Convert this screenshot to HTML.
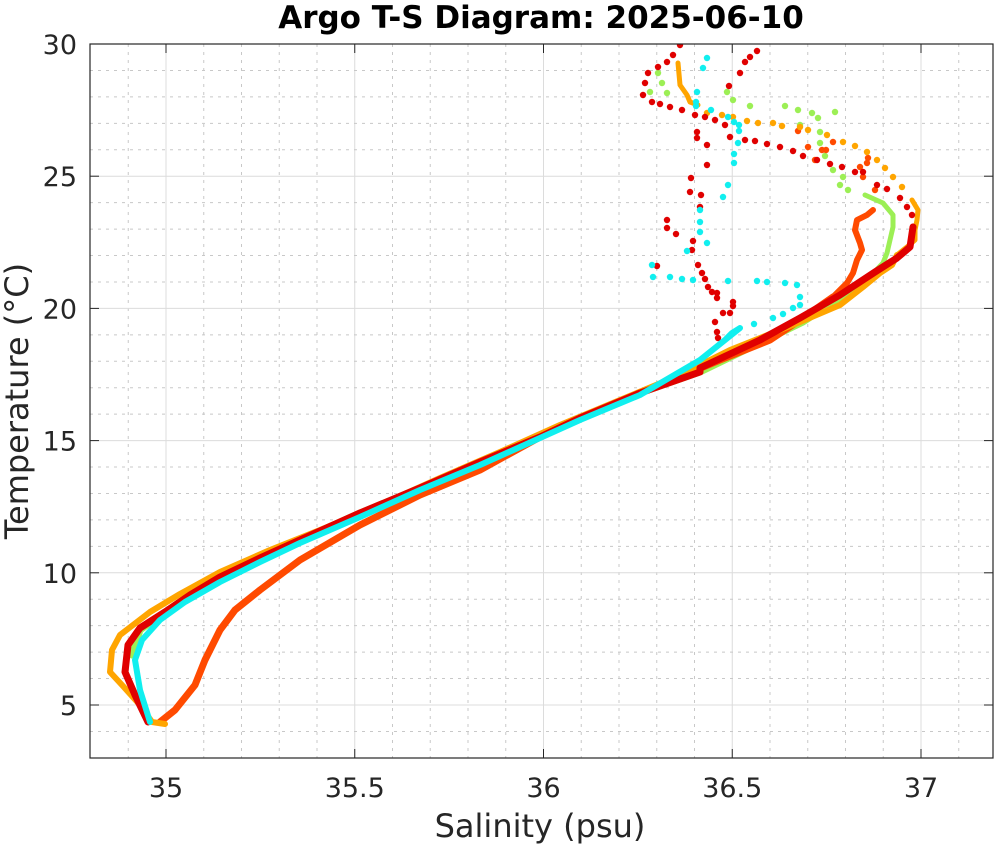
<!DOCTYPE html><html><head><meta charset="utf-8"><style>body{margin:0;background:#fff}svg{display:block}text{font-family:"DejaVu Sans","Liberation Sans",sans-serif}</style></head><body>
<svg id="s" width="997" height="846" xmlns="http://www.w3.org/2000/svg">
<rect width="997" height="846" fill="#fff"/>
<g id="grid"></g>
<g id="data" clip-path="url(#c)"></g>
<clipPath id="c"><rect x="90" y="44" width="903" height="714"/></clipPath>
<rect x="90" y="44" width="903" height="714" fill="none" stroke="#262626" stroke-width="1.2"/>
<g id="ticks"></g>
<text x="541" y="28" font-size="31" font-weight="bold" text-anchor="middle" fill="#000">Argo T-S Diagram: 2025-06-10</text>
<text x="540" y="837" font-size="32" text-anchor="middle" fill="#262626">Salinity (psu)</text>
<text transform="translate(28,401) rotate(-90)" font-size="32" text-anchor="middle" fill="#262626">Temperature (°C)</text>
</svg>
<script>
const NS="http://www.w3.org/2000/svg";
function el(p,t,a){const e=document.createElementNS(NS,t);for(const k in a)e.setAttribute(k,a[k]);p.appendChild(e);return e;}
const px=s=>166+(s-35)*377.5, py=T=>44+(30-T)*26.44;
const g=document.getElementById('grid'),tk=document.getElementById('ticks'),d=document.getElementById('data');
for(let i=0;i<=24;i++){const s=34.8+i*0.1,x=px(s);if(x<91||x>992)continue;const maj=Math.abs((s*2)-Math.round(s*2))<1e-6;
el(g,'line',{x1:x,x2:x,y1:44,y2:758,stroke:maj?'#dcdcdc':'#c8c8c8','stroke-width':1,'stroke-dasharray':maj?'':'3 5'});}
for(let T=3;T<=30;T++){const y=py(T);if(y<45||y>757)continue;const maj=T%5==0;
el(g,'line',{x1:90,x2:993,y1:y,y2:y,stroke:maj?'#dcdcdc':'#c8c8c8','stroke-width':1,'stroke-dasharray':maj?'':'3 5'});}
[35,35.5,36,36.5,37].forEach(s=>{const x=px(s);el(tk,'line',{x1:x,x2:x,y1:758,y2:749,stroke:'#262626'});el(tk,'line',{x1:x,x2:x,y1:44,y2:53,stroke:'#262626'});
const t=el(tk,'text',{x:x,y:797,'font-size':27,'text-anchor':'middle',fill:'#262626'});t.textContent=String(s);});
[5,10,15,20,25,30].forEach(T=>{const y=py(T);el(tk,'line',{x1:90,x2:99,y1:y,y2:y,stroke:'#262626'});el(tk,'line',{x1:993,x2:984,y1:y,y2:y,stroke:'#262626'});
const t=el(tk,'text',{x:77,y:y+10,'font-size':27,'text-anchor':'end',fill:'#262626'});t.textContent=String(T);});
function line(pts,c,w){el(d,'polyline',{points:pts,fill:'none',stroke:c,'stroke-width':w,'stroke-linejoin':'round','stroke-linecap':'round'});}
function dots(pts,c){pts.split(' ').forEach(p=>{const [x,y]=p.split(',');el(d,'circle',{cx:x,cy:y,r:3.2,fill:c});});}
const OR='#ff4a00',RD='#e00000',CY='#11efef',GR='#9cef55',OG='#ffa500';
const trunk="700,372 640,393 580,418 540,437 480,462 420,488 360,513 300,540 260,558 220,577 190,595 165,612";
line("867,280 855,288 803,322 "+trunk+" 140,630 132,655",GR,7);
dots("658,73 662,83 650,92 667,93 727,92 733,100 750,106 785,106 798,110 812,113 818,118 835,112 800,125 820,132 820,143 825,156 833,170 843,177 840,185 848,190",GR);
line("865,195 883,203 893,215 893,227 890,240 887,253 883,263 867,280",GR,5);
line("833,297 800,320 770,340 720,360 660,385 600,410 540,437 480,470 420,495 360,525 300,560 260,590 235,610 220,630 205,660 195,685 175,710 160,722",OR,7);
line("800,320 833,297 847,283 853,273 857,260 862,250 860,243 855,230 857,220 867,215 873,210",OR,6);
dots("875,190 863,177 860,167 867,163 868,158 815,160 808,147 798,131 833,142 822,150 826,150",OR);
line("897,255 892,265 880,273 863,287 840,305 800,322 730,350 680,375 620,400 560,425 500,452 440,478 380,505 320,530 270,550 220,572 180,594 150,612 120,635 112,650 110,672 122,685 140,705 152,722 165,724",OG,6);
line("678,63 680,85 687,95 690,102 698,105",OG,5);
dots("707,113 722,115 733,117 747,121 758,123 773,123 782,126 800,127 808,130 827,135 843,142 855,146 867,152 877,160 885,168 893,177 902,187",OG);
line("912,200 918,210 917,220 915,230 915,240 907,247 897,255",OG,5);
line("913,227 910,247 897,258 875,272 840,295 800,318 760,340 700,368 "+trunk+" 140,628 128,645 125,672 135,695 148,722",RD,7);
dots("913,227 912,215 907,207 900,198 887,189 877,185 863,172 855,172 842,167 830,164 817,160 803,156 793,151 780,147 767,144 755,141 745,140 730,137 725,125 715,120 705,117 695,115 682,110 670,107 660,104 652,102 643,95 645,83 648,73 658,67 667,62 673,55 680,45 697,132 697,138 707,145 707,165 691,178 690,192 701,195 700,207 667,220 667,228 676,234 693,241 692,250 698,265 702,273 705,279 708,287 712,292 717,293 717,298 733,302 733,306 723,313 730,313 715,322 717,332 718,338 657,266 729,86 740,73 745,62 750,57 757,51",RD);
line("725,340 732,333 740,328 700,360 640,395 580,420 540,438 480,465 420,490 360,517 300,543 260,562 220,582 185,602 160,620 142,640 135,660 140,690 150,722",CY,6);
dots("652,265 653,277 670,277 682,279 693,280 728,281 757,281 767,282 785,283 797,285 800,297 800,305 793,308 783,314 773,318 754,324 700,210 700,222 700,232 707,243 687,251 723,197 728,185 734,163 734,154 738,143 739,131 739,125 734,122 728,117 711,110 696,106 696,102 697,92 703,68 707,58",CY);
</script>
</body></html>
